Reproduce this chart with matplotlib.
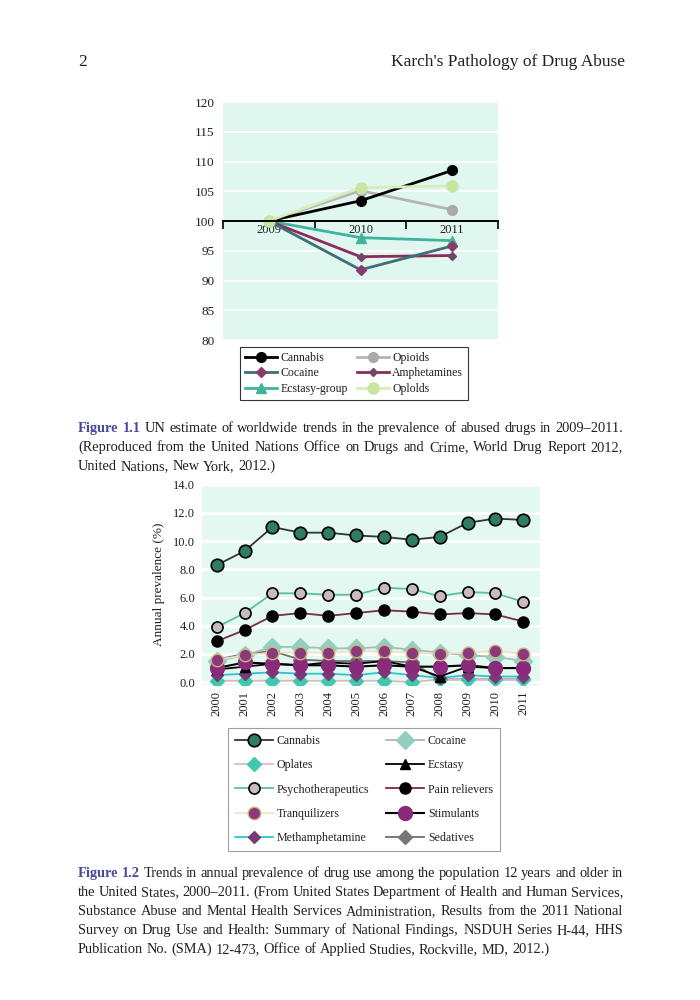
import numpy as np
import matplotlib

matplotlib.use("Agg")
import matplotlib.pyplot as plt

plt.rcParams["font.family"] = ["Liberation Serif", "DejaVu Serif"]

W, H = 700, 1000

# ---- Figure 1.1 data (index, 2009 = 100)
top_years = ["2009", "2010", "2011"]
top_cannabis = [100, 103.4, 108.5]
top_opioids = [100, 105.1, 101.9]
top_cocaine = [100, 91.8, 95.8]
top_amphet = [100, 94.0, 94.2]
top_ecstasy = [100, 97.2, 96.7]
top_oplolds = [100, 105.6, 105.9]

# ---- Figure 1.2 data (annual prevalence %, 2000-2011)
years = [str(y) for y in range(2000, 2012)]
cannabis = [8.3, 9.3, 11.0, 10.6, 10.6, 10.4, 10.3, 10.1, 10.3, 11.3, 11.6, 11.5]
oplates = [0.1, 0.1, 0.1, 0.1, 0.1, 0.1, 0.1, 0.0, 0.2, 0.2, 0.2, 0.2]
psycho = [3.9, 4.9, 6.3, 6.3, 6.2, 6.2, 6.7, 6.6, 6.1, 6.4, 6.3, 5.7]
tranq = [1.6, 1.9, 2.1, 2.1, 2.1, 2.2, 2.2, 2.1, 2.0, 2.1, 2.2, 2.0]
meth = [0.5, 0.6, 0.7, 0.6, 0.6, 0.5, 0.7, 0.5, 0.3, 0.5, 0.4, 0.4]
cocaine = [1.5, 1.9, 2.5, 2.5, 2.4, 2.4, 2.5, 2.3, 2.1, 1.9, 1.8, 1.5]
ecstasy = [0.9, 1.1, 1.3, 1.2, 1.4, 1.3, 1.5, 1.1, 0.4, 1.1, 1.0, 1.0]
pain = [2.9, 3.7, 4.7, 4.9, 4.7, 4.9, 5.1, 5.0, 4.8, 4.9, 4.8, 4.3]
stimul = [1.0, 1.4, 1.3, 1.2, 1.2, 1.1, 1.2, 1.1, 1.1, 1.2, 1.0, 1.0]
sedat = [1.6, 2.0, 2.2, 1.6, 1.5, 1.5, 1.5, 1.4, 0.2, 0.2, 0.2, 0.2]

cap1_label = "Figure 1.1"
cap1_lines = [
    "UN estimate of worldwide trends in the prevalence of abused drugs in 2009–2011.",
    "(Reproduced from the United Nations Office on Drugs and Crime, World Drug Report 2012,",
    "United Nations, New York, 2012.)",
]
cap2_label = "Figure 1.2"
cap2_lines = [
    "Trends in annual prevalence of drug use among the population 12 years and older in",
    "the United States, 2000–2011. (From United States Department of Health and Human Services,",
    "Substance Abuse and Mental Health Services Administration, Results from the 2011 National",
    "Survey on Drug Use and Health: Summary of National Findings, NSDUH Series H-44, HHS",
    "Publication No. (SMA) 12-473, Office of Applied Studies, Rockville, MD, 2012.)",
]

TXT = "#231f20"
BLUE = "#4a4a9c"
MINT = "#e0f7ef"

fig = plt.figure(figsize=(7, 10), dpi=100)


def fx(px):
    return px / W


def fy(py):
    return 1 - py / H


# page header
fig.text(fx(78), fy(66), "2", fontsize=12.5, color=TXT, va="baseline")
fig.text(fx(625), fy(66), "Karch's Pathology of Drug Abuse", fontsize=12.5,
         color=TXT, va="baseline", ha="right")

# ---------------- Figure 1.1 ----------------
ax1 = fig.add_axes([fx(223), fy(340), fx(275), 238 / H])
ax1.set_facecolor(MINT)
xt = np.arange(len(top_years))
ax1.plot(xt, top_opioids, color="#b4b4b4", lw=2, marker="o", ms=7, mfc="#a9a9a9", mec="#a9a9a9", label="Opioids")
ax1.plot(xt, top_cannabis, color="black", lw=2, marker="o", ms=7, mfc="black", mec="black", label="Cannabis")
ax1.plot(xt, top_ecstasy, color="#3fb39c", lw=2, marker="^", ms=7, mfc="#3fb39c", mec="#3fb39c", label="Ecstasy-group")
ax1.plot(xt, top_amphet, color="#8b2a5e", lw=2, marker="D", ms=4.5, mfc="#6e4666", mec="#6e4666", label="Amphetamines")
ax1.plot(xt, top_cocaine, color="#3f6e76", lw=2, marker="D", ms=5.5, mfc="#8b3a6e", mec="#8b3a6e", label="Cocaine")
ax1.plot(xt, top_oplolds, color="#d6eebc", lw=2, marker="o", ms=8, mfc="#c8e6a0", mec="#c8e6a0", label="Oplolds")
ax1.set_xlim(-0.5, 2.5)
ax1.set_ylim(80, 120)
ax1.set_yticks(np.arange(80, 121, 5))
ax1.yaxis.grid(True, color="white", lw=1.2)
ax1.set_axisbelow(True)
for s in ["left", "top", "right"]:
    ax1.spines[s].set_visible(False)
ax1.spines["bottom"].set_position(("data", 100))
ax1.spines["bottom"].set_linewidth(1.4)
ax1.set_xticks([-0.5, 0.5, 1.5, 2.5])
ax1.set_xticklabels([])
ax1.set_xticks(xt, minor=True)
ax1.set_xticklabels(top_years, minor=True)
ax1.tick_params(axis="x", which="major", direction="out", length=6, width=1.2)
ax1.tick_params(axis="x", which="minor", length=0, pad=2, labelsize=9, labelcolor=TXT)
ax1.tick_params(axis="y", length=0, labelsize=9.5, labelcolor=TXT, pad=6)

h1 = {l.get_label(): l for l in ax1.get_lines()}
order1 = ["Cannabis", "Cocaine", "Ecstasy-group", "Opioids", "Amphetamines", "Oplolds"]
leg1 = fig.legend([h1[k] for k in order1], order1, loc="upper left",
                  bbox_to_anchor=(fx(240), fy(347)), borderaxespad=0, ncol=2, fontsize=8.5,
                  frameon=True, fancybox=False, edgecolor="black", handlelength=2.7,
                  columnspacing=0.8, labelspacing=0.3, borderpad=0.4, handletextpad=0.3)
leg1.get_frame().set_linewidth(0.8)
for t in leg1.get_texts():
    t.set_color(TXT)

# ---------------- Figure 1.2 ----------------
ax2 = fig.add_axes([fx(202), fy(685), fx(338), 201 / H])
ax2.set_facecolor("#e2f8f0")
xs = np.arange(len(years))
series = [
    ("Cannabis", cannabis, dict(color="#333333", lw=1.3, marker="o", ms=9, mfc="#2e7d64", mec="black", mew=1.2)),
    ("Oplates", oplates, dict(color="#dcb6bc", lw=1.2, marker="D", ms=7, mfc="#3ec8ac", mec="#3ec8ac")),
    ("Psychotherapeutics", psycho, dict(color="#5cc0a0", lw=1.3, marker="o", ms=8, mfc="#c9b9c0", mec="black", mew=1.2)),
    ("Tranquilizers", tranq, dict(color="#ece4c4", lw=1.2, marker="o", ms=9, mfc="#8a3a7a", mec="#cdb07a", mew=1.0)),
    ("Methamphetamine", meth, dict(color="#2ec4d2", lw=1.3, marker="D", ms=6, mfc="#7a3a78", mec="#7a3a78")),
    ("Cocaine", cocaine, dict(color="#a8bcb4", lw=1.3, marker="D", ms=9, mfc="#92cfc0", mec="#92cfc0")),
    ("Ecstasy", ecstasy, dict(color="black", lw=1.3, marker="^", ms=7, mfc="black", mec="black")),
    ("Pain relievers", pain, dict(color="#7a2a40", lw=1.3, marker="o", ms=8, mfc="black", mec="black")),
    ("Stimulants", stimul, dict(color="black", lw=1.5, marker="o", ms=10, mfc="#8a2a7a", mec="#8a2a7a")),
    ("Sedatives", sedat, dict(color="#6f6f6f", lw=1.3, marker="D", ms=7, mfc="#767676", mec="#767676")),
]
h2 = {}
draw_order = ["Sedatives", "Cocaine", "Oplates", "Methamphetamine", "Ecstasy", "Stimulants",
              "Tranquilizers", "Pain relievers", "Psychotherapeutics", "Cannabis"]
styles = {name: (vals, st) for name, vals, st in series}
for name in draw_order:
    vals, st = styles[name]
    (h2[name],) = ax2.plot(xs, vals, label=name, **st)
ax2.set_xlim(-0.53, 11.6)
ax2.set_ylim(-0.2, 14.05)
ax2.set_yticks(np.arange(0, 14.1, 2))
ax2.set_yticklabels([f"{v:.1f}" for v in np.arange(0, 14.1, 2)])
ax2.set_xticks(xs)
ax2.set_xticklabels(years, rotation=90)
ax2.yaxis.grid(True, color="white", lw=2)
ax2.set_axisbelow(True)
for s in ax2.spines.values():
    s.set_visible(False)
ax2.tick_params(axis="both", length=0, labelsize=9, labelcolor=TXT)
ax2.tick_params(axis="y", pad=5)
ax2.tick_params(axis="x", pad=4)
ax2.set_ylabel("Annual prevalence (%)", fontsize=9.5, color=TXT, labelpad=6)

order2 = [name for name, _, _ in series]
leg2 = fig.legend([h2[k] for k in order2], order2, loc="upper left",
                  bbox_to_anchor=(fx(228), fy(728)), borderaxespad=0, ncol=2, fontsize=8.6,
                  frameon=True, fancybox=False, edgecolor="#888888", handlelength=3.2,
                  columnspacing=1.4, labelspacing=1.02, borderpad=0.6, handletextpad=0.3)
leg2.get_frame().set_linewidth(0.8)
for t in leg2.get_texts():
    t.set_color(TXT)


# ---------------- captions (justified) ----------------
renderer = fig.canvas.get_renderer()
X0, X1 = 78, 623


def text_width(s, size, **kw):
    t = fig.text(0, 0, s, fontsize=size, **kw)
    w = t.get_window_extent(renderer).width
    t.remove()
    return w


def natural_width(label, line, size):
    words = line.split()
    w = sum(text_width(x, size) for x in words)
    w += sum(text_width(x, size, fontweight="bold") for x in label.split())
    n = len(words) + len(label.split())
    return w + (n - 1) * 0.22 * size * 100 / 72


# pick the size so that the tightest line still fits with a thin word space
ref_size = 10.0
widest = max([natural_width(cap1_label, cap1_lines[0], ref_size)] +
             [natural_width("", l, ref_size) for l in cap1_lines[1:]] +
             [natural_width(cap2_label, cap2_lines[0], ref_size)] +
             [natural_width("", l, ref_size) for l in cap2_lines[1:]])
CAP_SIZE = ref_size * (X1 - X0) / widest
SPACE = 0.25 * CAP_SIZE * 100 / 72


def caption_line(y, words, justify=True, size=CAP_SIZE):
    arts = []
    for w, head in words:
        kw = dict(color=BLUE, fontweight="bold") if head else dict(color=TXT)
        t = fig.text(0, fy(y), w, fontsize=size, va="baseline", ha="left", **kw)
        arts.append(t)
    widths = [a.get_window_extent(renderer).width for a in arts]
    n = len(arts)
    if justify and n > 1:
        gap = (X1 - X0 - sum(widths)) / (n - 1)
    else:
        gap = SPACE
    x = X0
    for a, w in zip(arts, widths):
        a.set_x(fx(x))
        x += w + gap


def caption(y0, label, lines, step=19):
    for i, line in enumerate(lines):
        words = [(w, False) for w in line.split()]
        if i == 0:
            words = [(w, True) for w in label.split()] + words
        caption_line(y0 + i * step, words, justify=(i < len(lines) - 1))


caption(432, cap1_label, cap1_lines)
caption(877, cap2_label, cap2_lines)

fig.savefig("out.png", dpi=100)
plt.close(fig)
